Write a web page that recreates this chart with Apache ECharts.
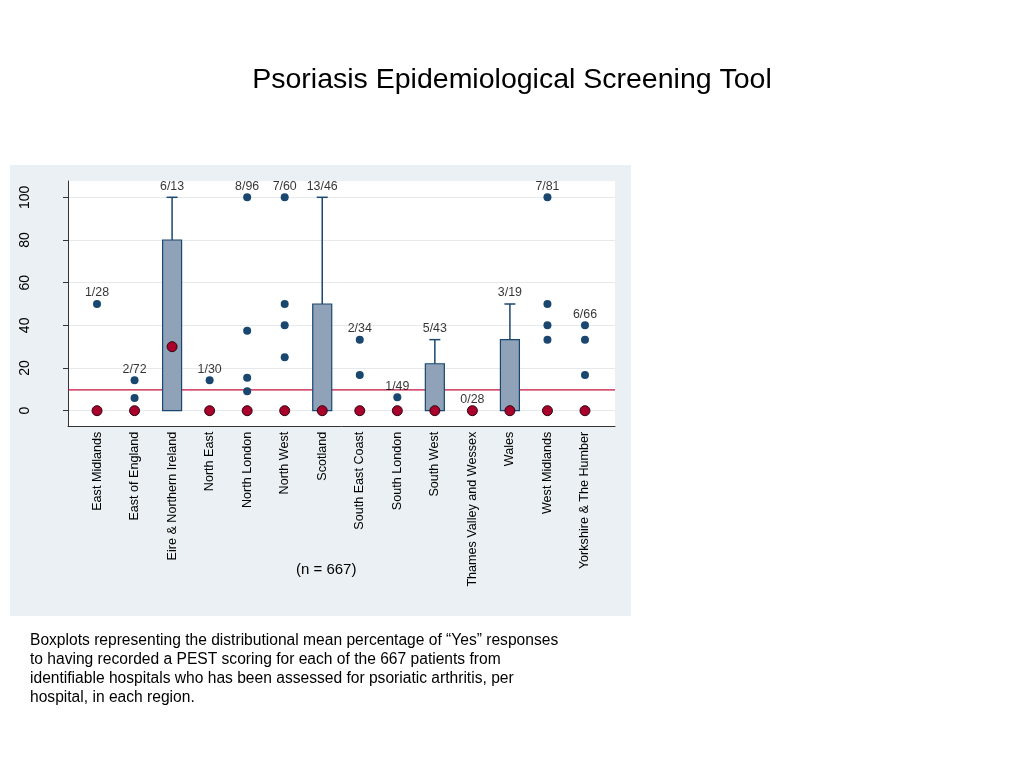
<!DOCTYPE html>
<html>
<head>
<meta charset="utf-8">
<title>Psoriasis Epidemiological Screening Tool</title>
<script src="https://cdn.jsdelivr.net/npm/echarts@6/dist/echarts.min.js"></script>
<style>
  html, body { margin: 0; padding: 0; background: #fff; }
  #chart { width: 1024px; height: 768px; }
</style>
</head>
<body>
<div id="chart"></div>
<script>
// regions on the x axis
var regions = [
  "East Midlands", "East of England", "Eire & Northern Ireland", "North East",
  "North London", "North West", "Scotland", "South East Coast", "South London",
  "South West", "Thames Valley and Wessex", "Wales", "West Midlands", "Yorkshire & The Humber"
];
// "yes / patients" label shown above each region
var counts = ["1/28", "2/72", "6/13", "1/30", "8/96", "7/60", "13/46", "2/34", "1/49", "5/43", "0/28", "3/19", "7/81", "6/66"];
// median % per region (red dots)
var medians = [0, 0, 30, 0, 0, 0, 0, 0, 0, 0, 0, 0, 0, 0];
// hospital values outside the boxes (blue dots)
var hospitals = [
  [50], [14.3, 5.9], [], [14.3], [100, 37.5, 15.4, 9.1], [100, 50, 40, 25], [],
  [33.3, 16.7], [6.3], [], [], [], [100, 50, 40, 33.3], [40, 33.3, 16.7]
];
// boxes: lower quartile, upper quartile, upper whisker (null = no box)
var q1 = [null, null, 0, null, null, null, 0, null, null, 0, null, 0, null, null];
var q3 = [null, null, 80, null, null, null, 50, null, null, 22, null, 33.3, null, null];
var whiskerHi = [null, null, 100, null, null, null, 100, null, null, 33.3, null, 50, null, null];
// overall mean (red reference line)
var overallMean = 9.8;
var yTicks = [0, 20, 40, 60, 80, 100];

var navy = "#1a476f";
var font = "'Liberation Sans', Arial, Helvetica, sans-serif";

var dotData = [];
hospitals.forEach(function (vals, i) {
  vals.forEach(function (v) { dotData.push([i, v]); });
});
var boxData = [];
q1.forEach(function (v, i) {
  if (v !== null) boxData.push([i, v, q3[i], whiskerHi[i]]);
});
var labelData = regions.map(function (r, i) {
  var top = Math.max.apply(null, hospitals[i].concat([medians[i], whiskerHi[i] || 0]));
  return [i, top, counts[i]];
});

var chart = echarts.init(document.getElementById("chart"));
chart.setOption({
  animation: false,
  textStyle: { fontFamily: font },
  title: {
    text: "Psoriasis Epidemiological Screening Tool",
    left: "center", top: 61,
    textStyle: { fontFamily: font, fontSize: 28.5, fontWeight: "normal", color: "#000" }
  },
  graphic: [
    { type: "rect", z: -10, shape: { x: 10, y: 165, width: 621, height: 451 }, style: { fill: "#eaf0f3" } },
    { type: "text", left: 296, top: 562, style: { text: "(n = 667)", font: "15px " + font, fill: "#000" } },
    { type: "text", left: 30, top: 631, style: {
        text: "Boxplots representing the distributional mean percentage of \u201cYes\u201d responses\n" +
              "to having recorded a PEST scoring for each of the 667 patients from\n" +
              "identifiable hospitals who has been assessed for psoriatic arthritis, per\n" +
              "hospital, in each region.",
        font: "15.6px " + font, lineHeight: 19, fill: "#000" } }
  ],
  grid: [
    // frame
    { left: 68, top: 181, width: 547, height: 245, show: true, backgroundColor: "#fff", borderWidth: 0 },
    // y ticks 0..100
    { left: 68, top: 197.3, width: 547, height: 213.4 },
    // data
    { left: 78.25, top: 197.3, width: 525.5, height: 213.4 }
  ],
  xAxis: [
    { gridIndex: 0, type: "value", min: 0, max: 1, axisLine: { show: true, lineStyle: { color: "#333", width: 1 } },
      axisTick: { show: false }, axisLabel: { show: false }, splitLine: { show: false } },
    { gridIndex: 1, type: "value", min: 0, max: 1, show: false },
    { gridIndex: 2, type: "category", data: regions, boundaryGap: true,
      axisLine: { show: false }, axisTick: { show: false },
      axisLabel: { rotate: 90, margin: 21, fontSize: 12.6, color: "#000", interval: 0 } }
  ],
  yAxis: [
    { gridIndex: 0, type: "value", min: 0, max: 1, axisLine: { show: true, lineStyle: { color: "#333", width: 1 } },
      axisTick: { show: false }, axisLabel: { show: false }, splitLine: { show: false } },
    { gridIndex: 1, type: "value", min: yTicks[0], max: yTicks[yTicks.length - 1], interval: 20,
      axisLine: { show: false },
      axisTick: { show: true, length: 5, lineStyle: { color: "#333" } },
      axisLabel: { rotate: 90, margin: 36, fontSize: 14, color: "#000" },
      splitLine: { show: true, lineStyle: { color: "#e6e9ec", width: 1 } } },
    { gridIndex: 2, type: "value", min: yTicks[0], max: yTicks[yTicks.length - 1], show: false }
  ],
  series: [
    {
      name: "mean", type: "line", xAxisIndex: 1, yAxisIndex: 1,
      data: [[0, overallMean], [1, overallMean]], symbol: "none",
      lineStyle: { color: "#c8103e", width: 1.3 }, z: 2
    },
    {
      name: "boxes", type: "custom", xAxisIndex: 2, yAxisIndex: 2, z: 3,
      data: boxData,
      renderItem: function (params, api) {
        var x = api.coord([api.value(0), 0])[0];
        var yLo = api.coord([api.value(0), api.value(1)])[1];
        var yHi = api.coord([api.value(0), api.value(2)])[1];
        var yW = api.coord([api.value(0), api.value(3)])[1];
        var bw = 19, cw = 11;
        return {
          type: "group",
          children: [
            { type: "line", shape: { x1: x, y1: yHi, x2: x, y2: yW }, style: { stroke: navy, lineWidth: 1.5 } },
            { type: "line", shape: { x1: x - cw / 2, y1: yW, x2: x + cw / 2, y2: yW }, style: { stroke: navy, lineWidth: 1.5 } },
            { type: "rect", shape: { x: x - bw / 2, y: yHi, width: bw, height: yLo - yHi },
              style: { fill: "#8fa2b7", stroke: navy, lineWidth: 1.2 } }
          ]
        };
      }
    },
    {
      name: "hospitals", type: "scatter", xAxisIndex: 2, yAxisIndex: 2, z: 4,
      data: dotData, symbolSize: 8, itemStyle: { color: navy, opacity: 1 }
    },
    {
      name: "median", type: "scatter", xAxisIndex: 2, yAxisIndex: 2, z: 5,
      data: medians.map(function (v, i) { return [i, v]; }), symbolSize: 10,
      itemStyle: { color: "#a8002a", borderColor: "#2e0610", borderWidth: 1, opacity: 1 }
    },
    {
      name: "counts", type: "scatter", xAxisIndex: 2, yAxisIndex: 2, z: 6,
      data: labelData, symbolSize: 0, silent: true,
      label: { show: true, position: "top", distance: 5, fontSize: 12.4, color: "#000",
        formatter: function (p) { return p.value[2]; } }
    }
  ]
});
</script>
</body>
</html>
